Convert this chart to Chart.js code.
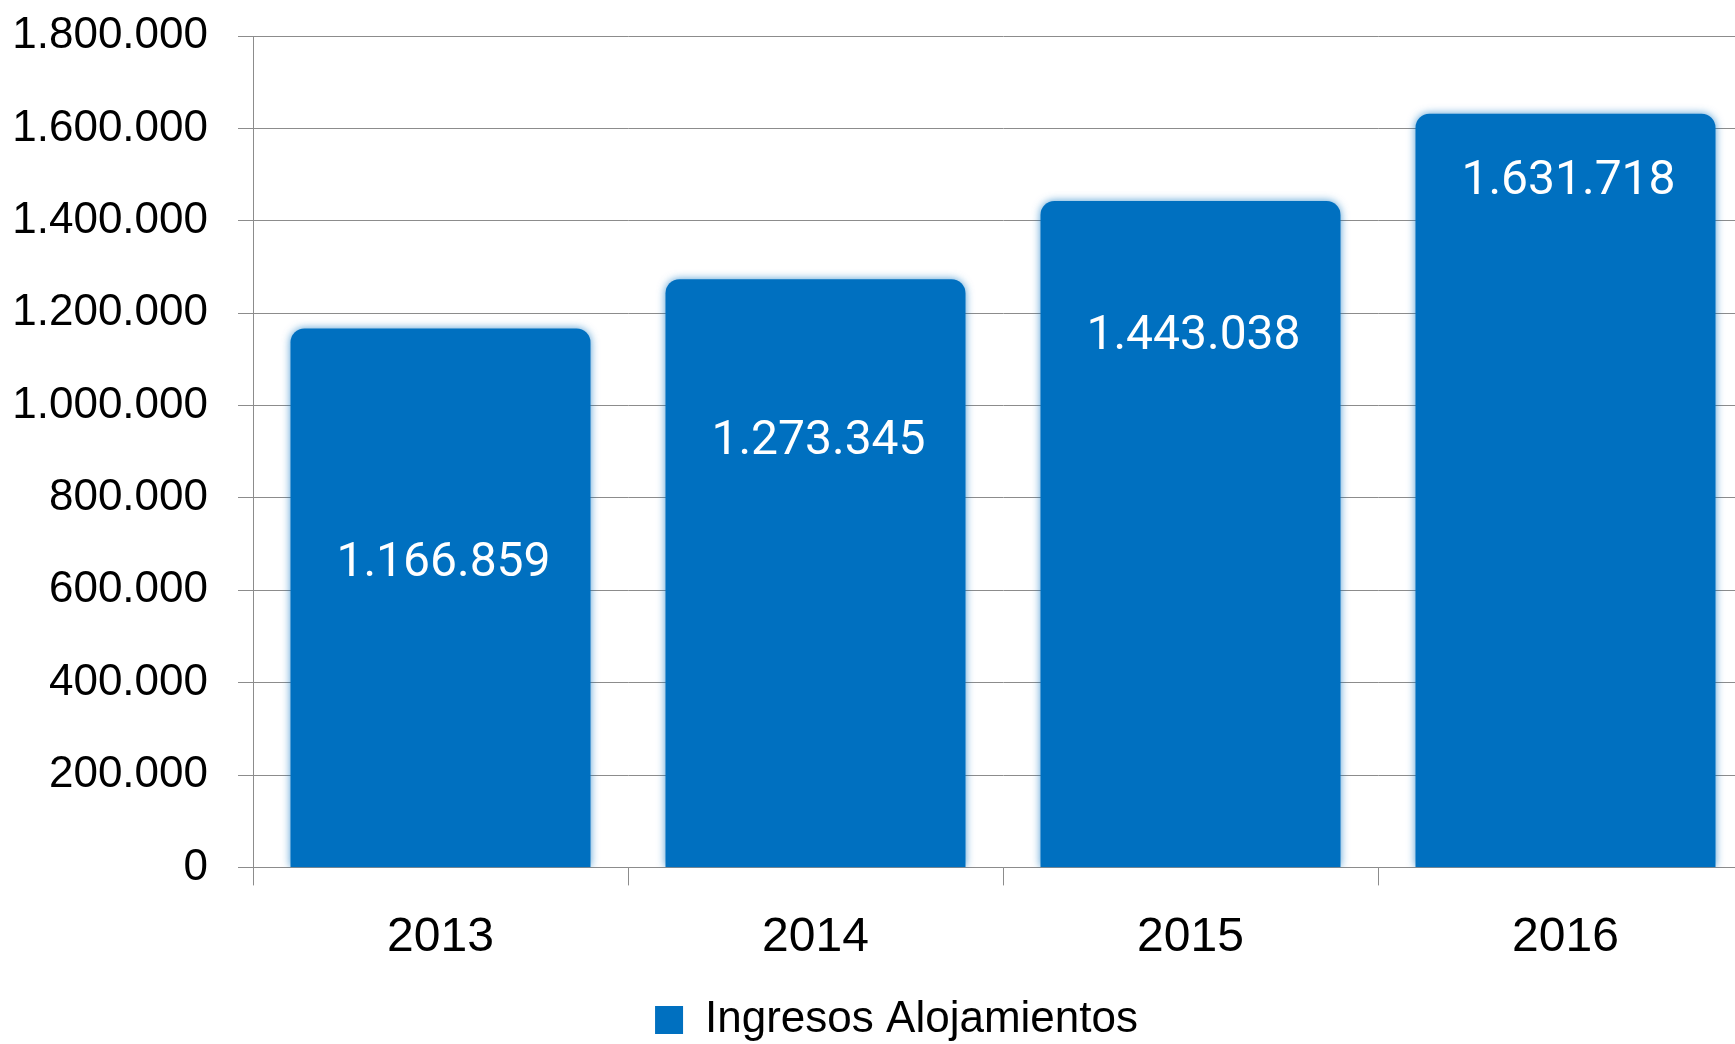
<!DOCTYPE html>
<html>
<head>
<meta charset="utf-8">
<script src="https://cdn.jsdelivr.net/npm/chart.js@4"></script>
<style>
    html, body { margin: 0; padding: 0; background: #fff; overflow: hidden; }
    #wrap { width: 1753px; height: 1044px; }
</style>
</head>
<body>
<div id="wrap"><canvas id="myChart"></canvas></div>
<script>
// datos del gráfico
const years = ['2013', '2014', '2015', '2016'];
const ingresos = [1166859, 1273345, 1443038, 1631718];
const seriesName = 'Ingresos Alojamientos';
const yMin = 0;
const yMax = 1800000;
const yStep = 200000;
// altura (en valor del eje) donde va cada etiqueta dentro de la barra
const labelLevels = [657000, 920000, 1148000, 1484000];

const blue = '#0070c0';
const fam = "'Liberation Sans', Arial, sans-serif";

function puntos(n) {
    return String(n).replace(/\B(?=(\d{3})+(?!\d))/g, '.');
}

// sombra suave para los bordes difuminados de las barras
const glowPlugin = {
    id: 'glow',
    beforeDatasetDraw(chart) {
        const ctx = chart.ctx;
        ctx.save();
        ctx.shadowColor = 'rgba(0, 112, 192, 0.7)';
        ctx.shadowBlur = 8;
    },
    afterDatasetDraw(chart) {
        chart.ctx.restore();
    }
};

// la leyenda va un poco a la derecha del centro del lienzo
const legendShift = {
    id: 'legendShift',
    afterLayout(chart) {
        chart.legend.left += 20;
        chart.legend.right += 20;
    }
};

// números blancos dentro de las barras
const valueLabels = {
    id: 'valueLabels',
    afterDatasetsDraw(chart) {
        const ctx = chart.ctx;
        const meta = chart.getDatasetMeta(0);
        const y = chart.scales.y;
        ctx.save();
        ctx.fillStyle = '#ffffff';
        ctx.font = '48px Roboto, sans-serif';
        ctx.textAlign = 'center';
        ctx.textBaseline = 'middle';
        meta.data.forEach(function (bar, i) {
            ctx.fillText(puntos(ingresos[i]), bar.x + 3, y.getPixelForValue(labelLevels[i]));
        });
        ctx.restore();
    }
};

const ctx = document.getElementById('myChart').getContext('2d');
new Chart(ctx, {
    type: 'bar',
    data: {
        labels: years,
        datasets: [{
            label: seriesName,
            data: ingresos,
            backgroundColor: blue,
            borderWidth: 0,
            borderRadius: { topLeft: 14, topRight: 14, bottomLeft: 0, bottomRight: 0 },
            borderSkipped: false,
            barPercentage: 0.8,
            categoryPercentage: 1.0
        }]
    },
    options: {
        responsive: true,
        maintainAspectRatio: false,
        animation: false,
        layout: { padding: { top: 36, right: 0, left: 0, bottom: -8 } },
        plugins: {
            tooltip: { enabled: false },
            legend: {
                position: 'bottom',
                labels: {
                    color: '#000',
                    font: { family: fam, size: 44 },
                    boxWidth: 28,
                    boxHeight: 28,
                    padding: 2
                }
            }
        },
        scales: {
            x: {
                afterFit(scale) { scale.height += 5; },
                grid: {
                    drawOnChartArea: false,
                    drawTicks: true,
                    tickLength: 18,
                    color: '#8c8c8c'
                },
                border: { color: '#8c8c8c', width: 1 },
                ticks: {
                    color: '#000',
                    font: { family: fam, size: 48 },
                    padding: 24
                }
            },
            y: {
                min: yMin,
                max: yMax,
                afterFit(scale) {
                    scale.width = 253;
                    scale.paddingTop = 0;
                    scale.paddingBottom = 0;
                },
                grid: {
                    color: '#8c8c8c',
                    tickLength: 15
                },
                border: { color: '#8c8c8c', width: 1 },
                ticks: {
                    stepSize: yStep,
                    color: '#000',
                    font: { family: fam, size: 44 },
                    padding: 30,
                    callback: function (v) { return puntos(v); }
                }
            }
        }
    },
    plugins: [glowPlugin, legendShift, valueLabels]
});
</script>
</body>
</html>
